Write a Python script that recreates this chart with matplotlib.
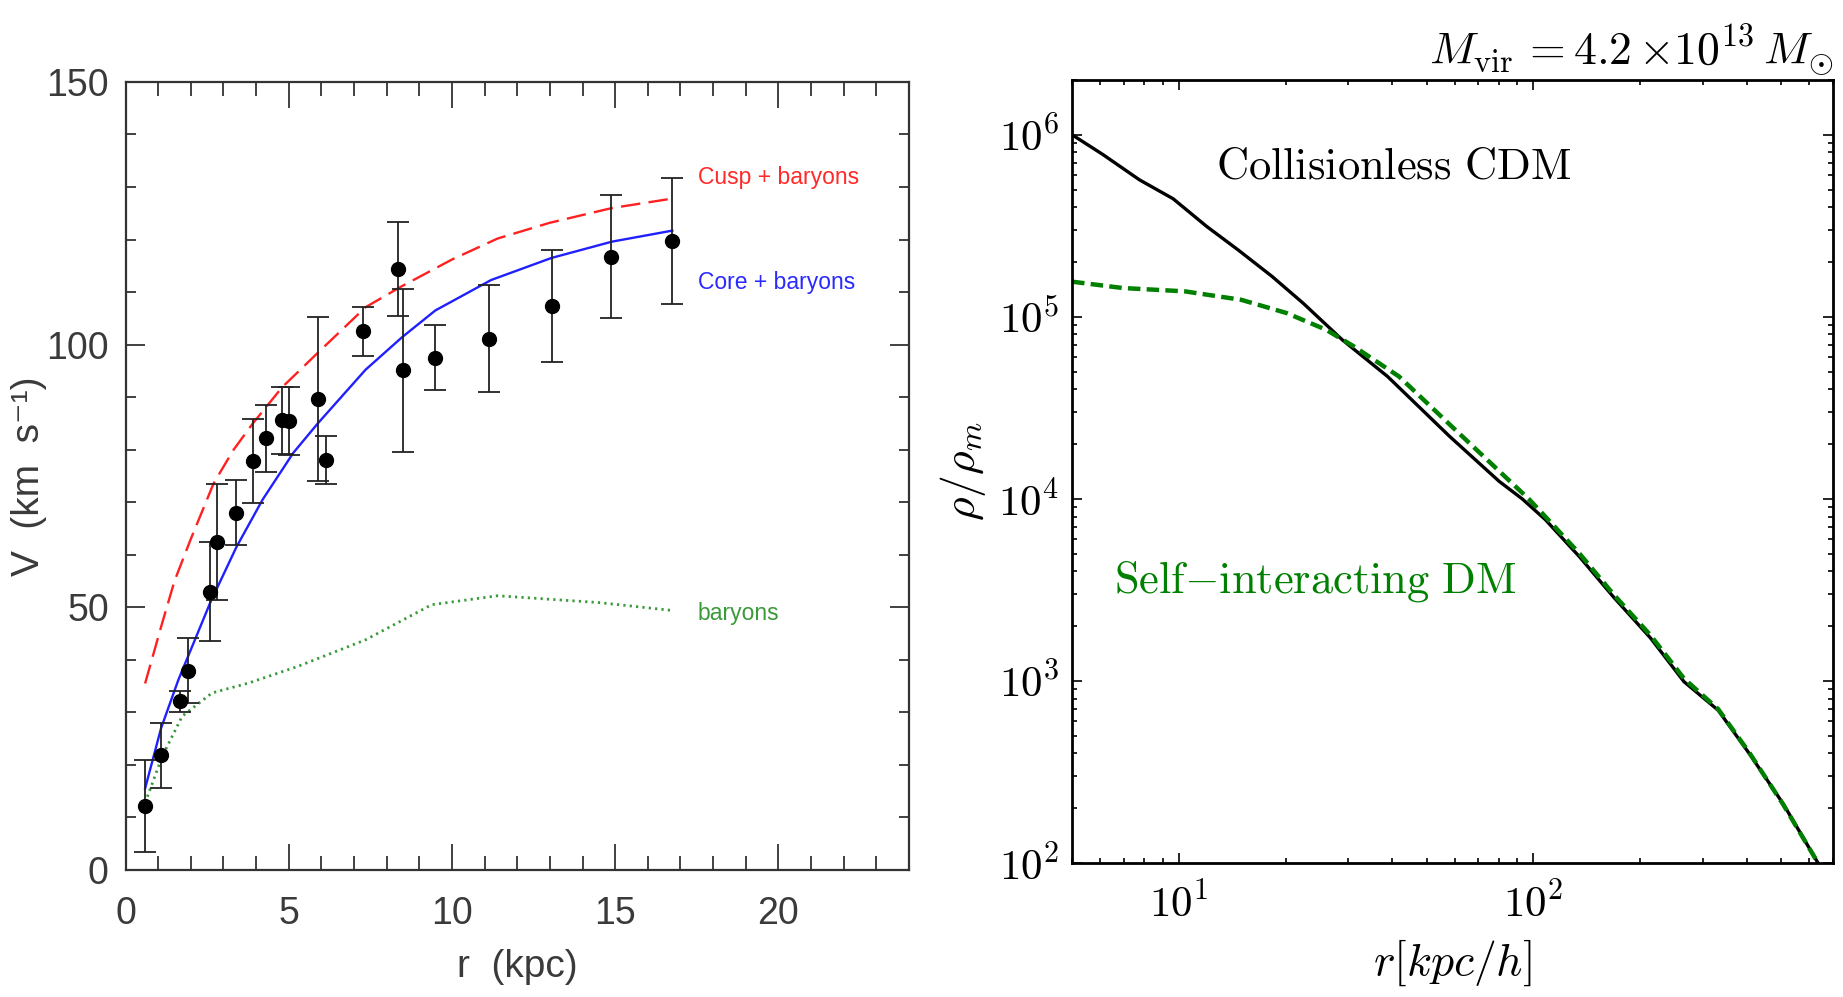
import numpy as np
import matplotlib
matplotlib.use("Agg")
import matplotlib.pyplot as plt
from matplotlib.ticker import MultipleLocator, LogLocator, FuncFormatter, NullFormatter

# ---------------- data: left panel (rotation curve) ----------------
r_obs = [0.6, 1.09, 1.66, 1.9, 2.6, 2.8, 3.4, 3.9, 4.29, 4.78, 5.02, 5.89, 6.15,
         7.26, 8.36, 8.49, 9.49, 11.15, 13.05, 14.88, 16.75]
v_obs = [12.2, 21.8, 32.1, 37.9, 53.0, 62.4, 68.0, 77.9, 82.2, 85.6, 85.4, 89.6, 78.0,
         102.5, 114.4, 95.1, 97.5, 101.1, 107.3, 116.7, 119.8]
v_err = [8.7, 6.2, 2.0, 6.2, 9.5, 11.0, 6.2, 8.0, 6.4, 6.4, 6.5, 15.6, 4.6,
         4.6, 9.0, 15.5, 6.2, 10.2, 10.7, 11.7, 12.0]

r_cusp = [0.6, 1.1, 1.5, 2.0, 2.7, 3.3, 3.9, 4.8, 5.9, 7.35, 8.4, 10.0, 11.4, 13.0, 14.9, 16.75]
v_cusp = [35.5, 46.5, 55.0, 63.0, 73.6, 79.9, 85.0, 91.9, 98.5, 107.1, 110.9, 116.2, 120.2, 123.2, 126.0, 127.8]

r_core = [0.6, 1.09, 1.62, 2.61, 3.4, 4.2, 5.14, 5.89, 7.35, 8.47, 9.49, 11.2, 13.05, 14.9, 16.75]
v_core = [15.5, 27.0, 36.2, 51.1, 61.5, 70.5, 79.4, 85.0, 95.2, 101.4, 106.5, 112.3, 116.5, 119.6, 121.7]

r_bary = [0.6, 1.13, 1.74, 2.65, 3.78, 5.3, 7.35, 9.38, 11.4, 14.5, 16.75]
v_bary = [12.8, 21.7, 29.3, 33.7, 35.6, 38.8, 43.8, 50.5, 52.2, 50.9, 49.4]

# ---------------- data: right panel (density profiles) ----------------
r_cdm = [5, 6.1, 7.74, 9.64, 12.0, 14.7, 18.3, 22.4, 28.9, 38.8, 58.1, 80, 93,
         108, 135, 168, 214, 266, 332, 406, 506, 635]
rho_cdm = [1.0e6, 7.8e5, 5.66e5, 4.45e5, 3.13e5, 2.33e5, 1.67e5, 1.19e5, 7.48e4, 4.7e4,
           2.2e4, 1.25e4, 1.0e4, 7.7e3, 4.8e3, 2.9e3, 1.72e3, 9.9e2, 6.9e2, 4.0e2, 2.12e2, 1.0e2]

r_sidm = [5, 6.93, 10.4, 15, 20.1, 26, 31.2, 41.8, 60.3, 97, 108, 135, 168, 214, 266,
          332, 406, 506, 635]
rho_sidm = [1.56e5, 1.44e5, 1.38e5, 1.24e5, 1.05e5, 8.5e4, 6.87e4, 4.7e4, 2.39e4, 1.0e4,
            8.0e3, 5.0e3, 3.0e3, 1.78e3, 1.03e3, 7.0e2, 4.05e2, 2.1e2, 1.0e2]

# ---------------- style ----------------
sans = ['Liberation Sans Narrow', 'Liberation Sans', 'DejaVu Sans']
plt.rcParams['font.family'] = sans
plt.rcParams['mathtext.fontset'] = 'cm'
plt.rcParams['lines.scale_dashes'] = False

fig = plt.figure(figsize=(18.43, 9.97), dpi=100)
ax1 = fig.add_axes([0.0681, 0.1274, 0.4251, 0.7904])
ax2 = fig.add_axes([0.5817, 0.1344, 0.4129, 0.7854])

# ---------------- left panel ----------------
gray = '#333333'
ax1.errorbar(r_obs, v_obs, yerr=v_err, fmt='o', color='black', ms=10,
             ecolor='#222222', elinewidth=1.3, capsize=8, capthick=1.3, zorder=4)
ax1.plot(r_cusp, v_cusp, color='#ff2020', lw=1.7, dashes=(14, 6))
ax1.plot(r_core, v_core, color='#2020ff', lw=1.7)
ax1.plot(r_bary, v_bary, color='#3a9a3a', lw=2.0, dashes=(1.6, 3.0))

ax1.set_xlim(0, 24)
ax1.set_ylim(0, 150)
ax1.xaxis.set_major_locator(MultipleLocator(5))
ax1.xaxis.set_minor_locator(MultipleLocator(1))
ax1.yaxis.set_major_locator(MultipleLocator(50))
ax1.yaxis.set_minor_locator(MultipleLocator(10))
ax1.tick_params(which='both', direction='in', top=True, right=True,
                color=gray, labelcolor='#3a3a3a', width=1.3, labelsize=27)
ax1.tick_params(axis='x', which='major', length=19, pad=19)
ax1.tick_params(axis='x', which='minor', length=10)
ax1.tick_params(axis='y', which='major', length=14, pad=12)
ax1.tick_params(axis='y', which='minor', length=7.5)
for s in ax1.spines.values():
    s.set_color(gray)
    s.set_linewidth(1.6)

ax1.set_xlabel('r  (kpc)', fontsize=28, color='#3a3a3a')
ax1.set_ylabel('V  (km  s⁻¹)', fontsize=28, color='#3a3a3a')
ax1.xaxis.set_label_coords(0.5, -0.10)
ax1.yaxis.set_label_coords(-0.10, 0.5)

ax1.text(17.53, 131.9, 'Cusp + baryons', color='#ff2a2a', fontsize=16.5, va='center', ha='left')
ax1.text(17.53, 111.8, 'Core + baryons', color='#2a2aff', fontsize=16.5, va='center', ha='left')
ax1.text(17.53, 48.8, 'baryons', color='#3a9a3a', fontsize=16.5, va='center', ha='left')

# ---------------- right panel ----------------
ax2.plot(r_cdm, rho_cdm, color='black', lw=2.4)
ax2.plot(r_sidm, rho_sidm, color='#008000', lw=3.2, dashes=(9, 4.5))
ax2.set_xscale('log')
ax2.set_yscale('log')
ax2.set_xlim(5, 700)
ax2.set_ylim(1e2, 2e6)

fmt = FuncFormatter(lambda v, p: r'$10^{%d}$' % int(round(np.log10(v))))
ax2.xaxis.set_major_locator(LogLocator(base=10))
ax2.yaxis.set_major_locator(LogLocator(base=10))
ax2.xaxis.set_major_formatter(fmt)
ax2.yaxis.set_major_formatter(fmt)
ax2.xaxis.set_minor_formatter(NullFormatter())
ax2.yaxis.set_minor_formatter(NullFormatter())
ax2.tick_params(which='both', direction='in', top=True, right=True,
                color='black', width=1.2, labelsize=31)
ax2.tick_params(which='major', length=7)
ax2.tick_params(which='minor', length=3.5)
ax2.tick_params(axis='x', which='major', pad=14)
ax2.tick_params(axis='y', which='major', pad=9)
for s in ax2.spines.values():
    s.set_color('black')
    s.set_linewidth(2.0)

ax2.set_xlabel(r'$r[kpc/h]$', fontsize=33)
ax2.set_ylabel(r'$\rho/\rho_m$', fontsize=33)
ax2.xaxis.set_label_coords(0.5, -0.095)
ax2.yaxis.set_label_coords(-0.11, 0.5)

ax2.text(0.423, 0.889, r'$\mathrm{Collisionless\ CDM}$', transform=ax2.transAxes,
         ha='center', va='center', fontsize=32, color='black')
ax2.text(0.319, 0.359, r'$\mathrm{Self{-}interacting\ DM}$', transform=ax2.transAxes,
         ha='center', va='center', fontsize=32, color='#008000')
ax2.text(1.0, 1.019, r'$M_{\rm vir}\,{=}4.2\,{\times}10^{13}\,M_{\odot}$', transform=ax2.transAxes,
         ha='right', va='baseline', fontsize=33, color='black')

fig.savefig('out.png', dpi=100)
